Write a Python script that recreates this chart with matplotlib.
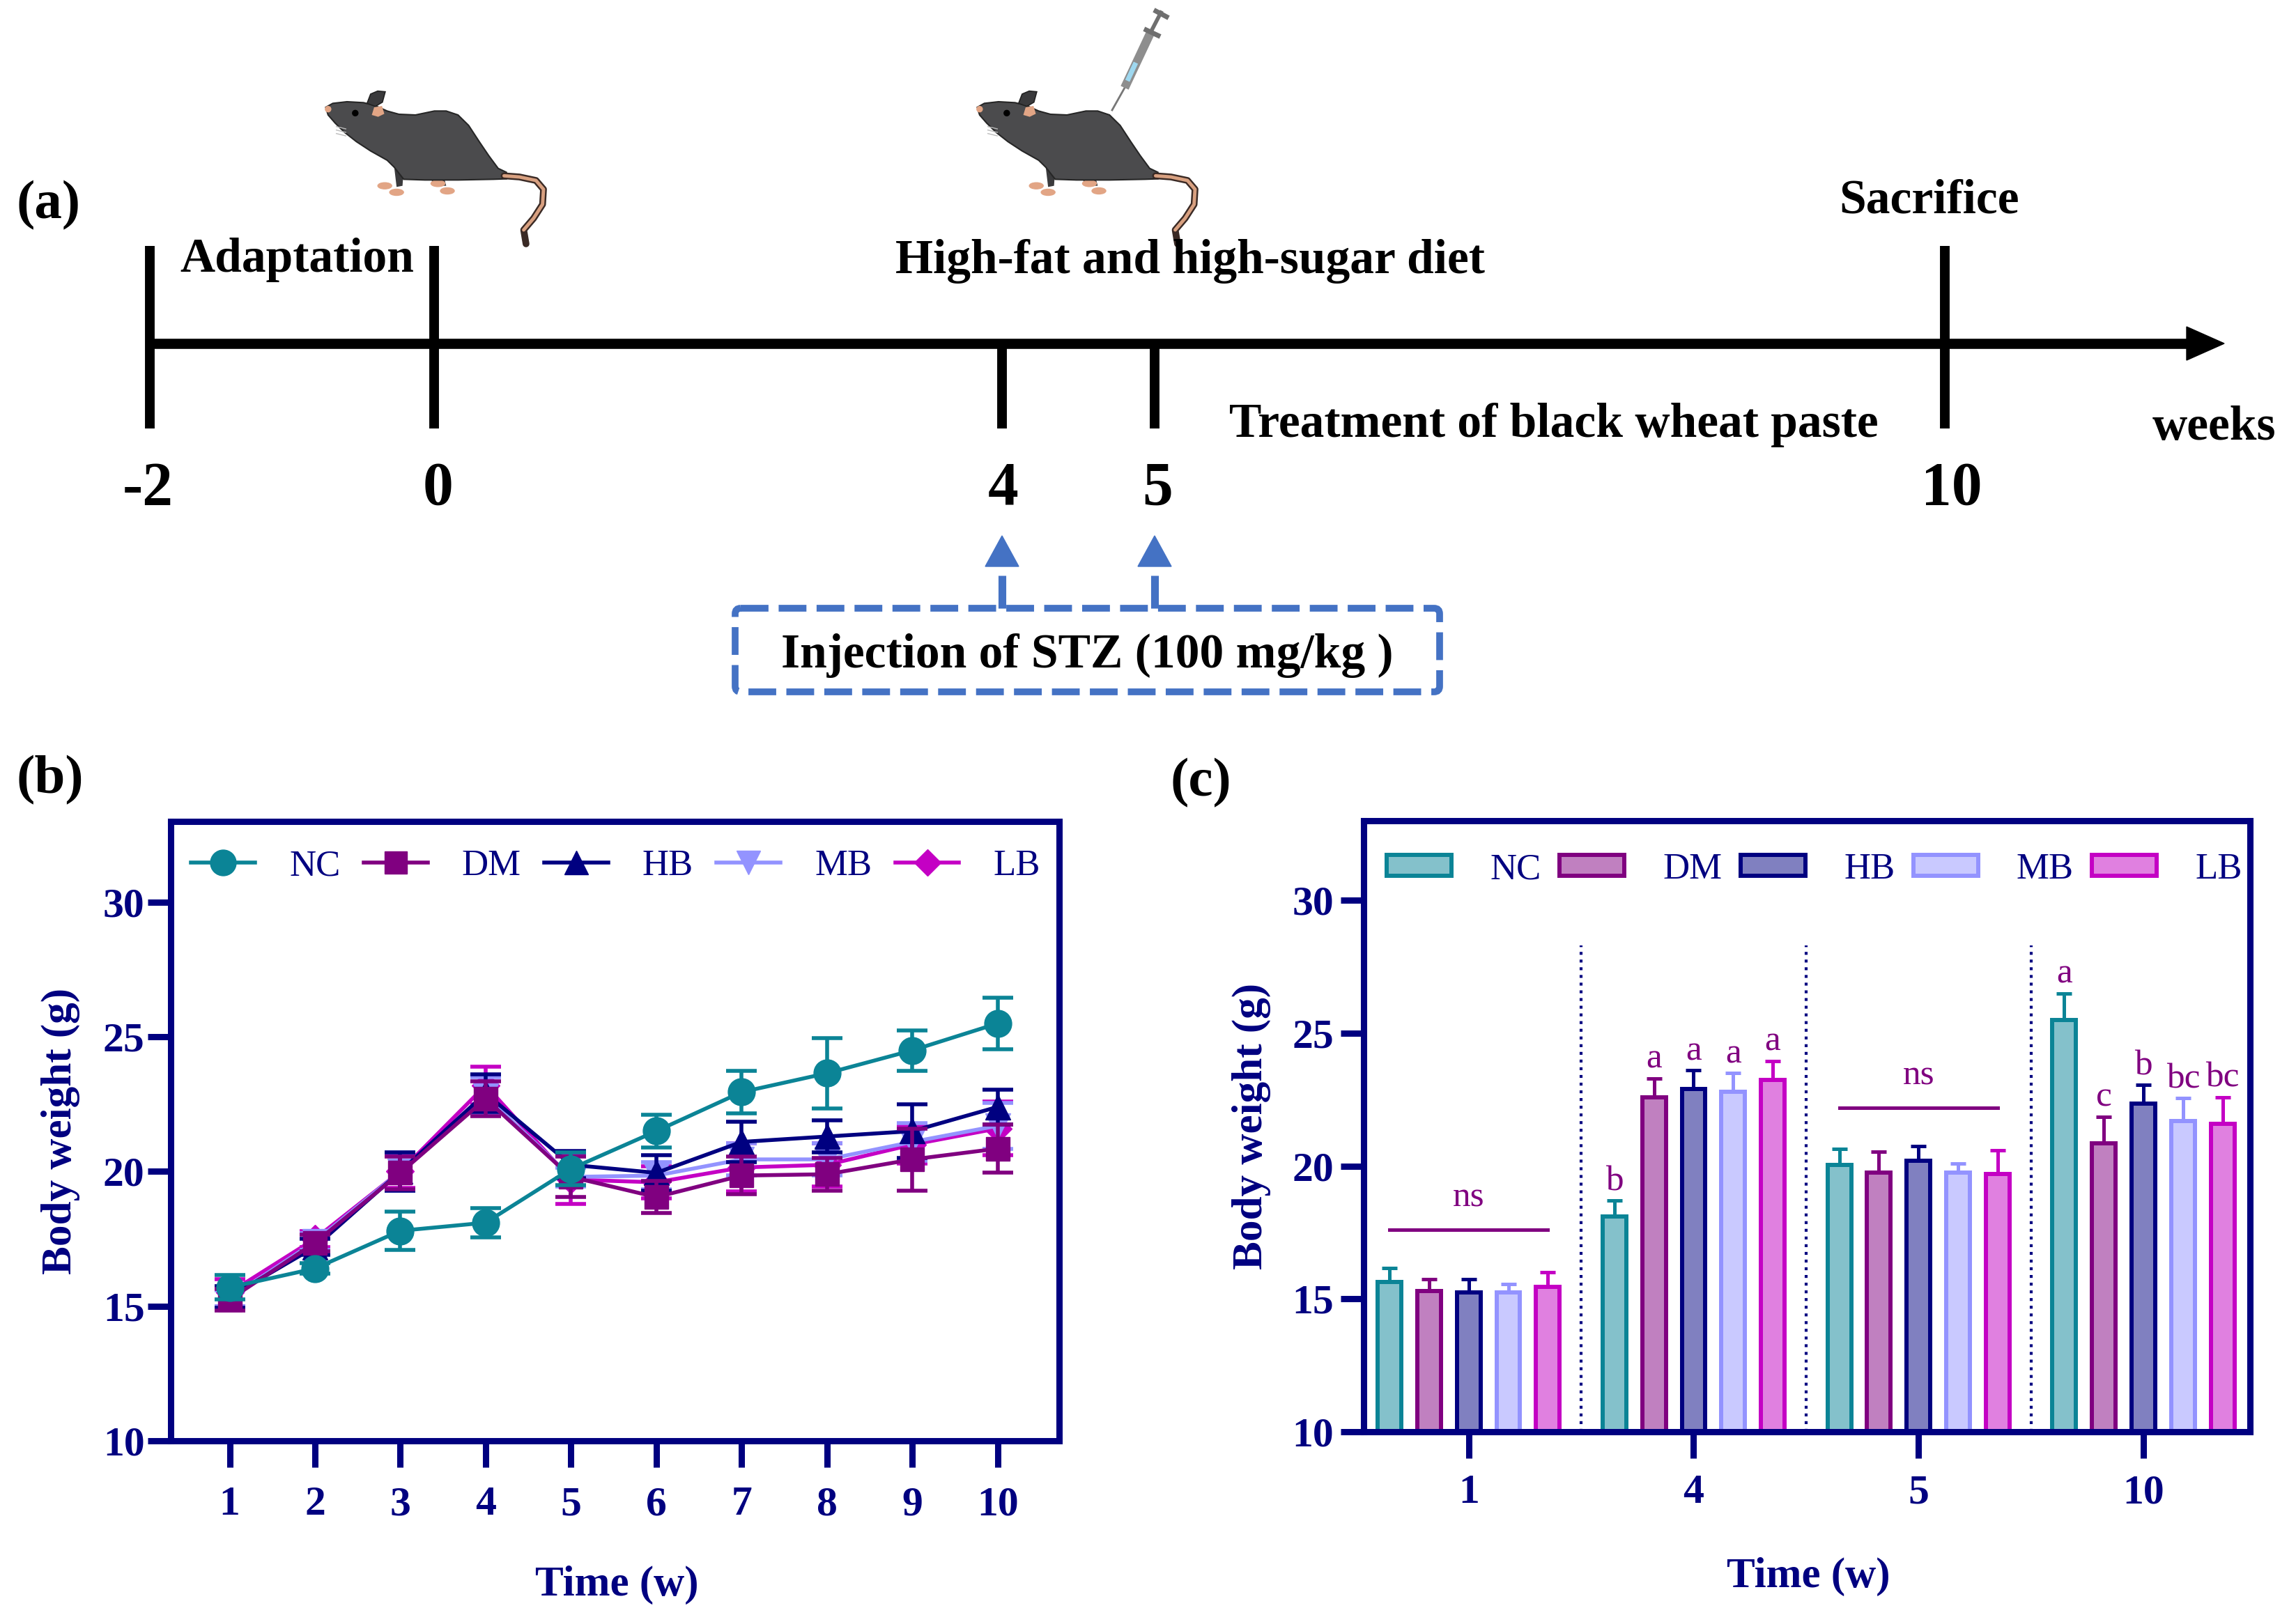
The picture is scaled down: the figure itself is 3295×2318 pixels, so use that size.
import matplotlib
matplotlib.use("Agg")
import matplotlib.pyplot as plt
from matplotlib.lines import Line2D
from matplotlib.patches import Patch, Polygon, FancyBboxPatch, Ellipse, Circle

plt.rcParams['font.family'] = ['Liberation Serif', 'DejaVu Serif']

# ---------------- data ----------------
groups = ["NC", "DM", "HB", "MB", "LB"]

# (b) body weight over time
weeks = [1, 2, 3, 4, 5, 6, 7, 8, 9, 10]
nc_mean = [15.7, 16.4, 17.8, 18.1, 20.1, 21.5, 22.95, 23.65, 24.5, 25.5]
nc_err = [0.45, 0.2, 0.7, 0.55, 0.6, 0.6, 0.8, 1.3, 0.75, 0.95]
dm_mean = [15.25, 17.35, 19.95, 22.7, 19.8, 19.05, 19.85, 19.9, 20.45, 20.85]
dm_err = [0.4, 0.3, 0.6, 0.65, 0.75, 0.6, 0.7, 0.6, 1.15, 0.9]
hb_mean = [15.35, 17.2, 20.0, 22.9, 20.25, 19.95, 21.1, 21.3, 21.5, 22.4]
hb_err = [0.4, 0.3, 0.7, 0.7, 0.5, 0.65, 0.75, 0.6, 1.0, 0.65]
mb_mean = [15.3, 17.4, 20.0, 22.8, 19.8, 19.85, 20.45, 20.45, 21.1, 21.7]
mb_err = [0.3, 0.3, 0.7, 0.7, 0.35, 0.5, 0.6, 0.6, 0.7, 0.85]
lb_mean = [15.5, 17.5, 20.0, 23.2, 19.7, 19.6, 20.15, 20.25, 21.0, 21.6]
lb_err = [0.5, 0.3, 0.6, 0.7, 0.9, 0.6, 0.9, 0.8, 0.7, 1.0]

# (c) body weight at selected weeks
bar_weeks = ["1", "4", "5", "10"]
bar_nc = [15.65, 18.1, 20.05, 25.5]
bar_nc_err = [0.5, 0.6, 0.6, 1.0]
bar_dm = [15.3, 22.6, 19.75, 20.85]
bar_dm_err = [0.45, 0.7, 0.8, 1.0]
bar_hb = [15.25, 22.9, 20.2, 22.35]
bar_hb_err = [0.5, 0.7, 0.55, 0.7]
bar_mb = [15.25, 22.8, 19.75, 21.7]
bar_mb_err = [0.3, 0.7, 0.35, 0.85]
bar_lb = [15.45, 23.25, 19.7, 21.6]
bar_lb_err = [0.55, 0.7, 0.9, 1.0]
letters_w4 = ["b", "a", "a", "a", "a"]
letters_w10 = ["a", "c", "b", "bc", "bc"]
ns_weeks = [0, 2]
ns_level = [17.6, 22.2]

# (a) timeline
timeline_labels = ["-2", "0", "4", "5", "10"]

# ---------------- style ----------------
navy = "#000080"
purple = "#800080"
blue = "#4472C4"
line_colors = ["#0B8496", "#800080", "#000080", "#9393FF", "#C400C4"]
fill_colors = ["#84C1CB", "#C080C0", "#8080C0", "#C9C9FF", "#E080E0"]
markers = ["o", "s", "^", "v", "D"]
msizes = [28, 24, 26, 26, 20]

W, H = 3295, 2318
fig = plt.figure(figsize=(W / 100, H / 100), dpi=100)

# overlay axes in pixel coords for the timeline and panel labels
ax0 = fig.add_axes([0, 0, 1, 1])
ax0.set_xlim(0, W)
ax0.set_ylim(H, 0)
ax0.axis("off")

tl_x = [215, 623, 1438, 1657, 2791]
tl_label_x = [212, 629, 1440, 1661, 2801]
tl_tall = [True, True, False, False, True]
line_y = 493
ax0.plot([211, 3140], [line_y, line_y], color="black", lw=10.5, solid_capstyle="butt")
ax0.add_patch(Polygon([[3138, line_y - 24], [3192, line_y], [3138, line_y + 24]],
                      closed=True, color="black"))
for x, lx, tall, lab in zip(tl_x, tl_label_x, tl_tall, timeline_labels):
    y0 = 353 if tall else line_y
    ax0.plot([x, x], [y0, 615], color="black", lw=10, solid_capstyle="butt")
    ax0.text(lx, 724, lab, fontsize=63, fontweight="bold", ha="center", va="baseline")

ax0.text(70, 313, "(a)", fontsize=57, fontweight="bold", ha="center", va="baseline")
ax0.text(426, 390, "Adaptation", fontsize=50, fontweight="bold", ha="center", va="baseline")
ax0.text(1708, 392, "High-fat and high-sugar diet", fontsize=50, fontweight="bold",
         ha="center", va="baseline")
ax0.text(2768, 305, "Sacrifice", fontsize=50, fontweight="bold", ha="center", va="baseline")
ax0.text(2230, 627, "Treatment of black wheat paste", fontsize=50, fontweight="bold",
         ha="center", va="baseline")
ax0.text(3178, 631, "weeks", fontsize=50, fontweight="bold", ha="center", va="baseline")

# injection box
box = FancyBboxPatch((1055, 873), 1011, 120, boxstyle="round,pad=0,rounding_size=8",
                     fill=False, edgecolor=blue, lw=7, linestyle=(0, (4.1, 1.5)))
ax0.add_patch(box)
ax0.text(1560, 958, "Injection of STZ (100 mg/kg )", fontsize=50, fontweight="bold",
         ha="center", va="baseline")
for x in [1438, 1657]:
    ax0.plot([x, x], [873, 826], color=blue, lw=8, solid_capstyle="butt")
    ax0.add_patch(Polygon([[x - 24, 813], [x, 769], [x + 24, 813]], closed=True, color=blue))


# mice (simple drawing)
def draw_mouse(ax, ox, oy):
    sx, sy = 1 / 2.95, 1 / 3.0

    def tr(pts):
        return [[ox + px * sx, oy + py * sy] for px, py in pts]

    tail = [(895, 757), (960, 762), (1030, 777), (1062, 815), (1058, 880),
            (1020, 940), (978, 990), (988, 1050)]
    t = tr(tail)
    ax.plot([p[0] for p in t], [p[1] for p in t], color="#3a2a25", lw=7,
            solid_capstyle="round")
    ax.plot([p[0] for p in t[:-1]], [p[1] for p in t[:-1]], color="#D8A080", lw=3.5,
            solid_capstyle="round")
    legs = [[(430, 720), (470, 730), (465, 800), (440, 805)],
            [(580, 760), (640, 760), (650, 800), (600, 800)]]
    for leg in legs:
        ax.add_patch(Polygon(tr(leg), closed=True, facecolor="#3A3A3C", edgecolor="none"))
    for fx, fy in [(390, 800), (440, 828), (615, 790), (655, 822)]:
        cx, cy = tr([(fx, fy)])[0]
        ax.add_patch(Ellipse((cx, cy), 20, 9, color="#E2A585"))
    body = [(140, 462), (170, 445), (230, 438), (300, 442), (350, 455), (400, 478),
            (450, 492), (520, 495), (600, 478), (650, 478), (700, 495), (745, 540),
            (790, 610), (830, 670), (870, 725), (905, 742), (905, 770), (850, 772),
            (700, 775), (560, 775), (470, 772), (430, 720),
            (400, 690), (330, 650), (270, 610), (220, 570), (180, 530), (150, 495)]
    ax.add_patch(Polygon(tr(body), closed=True, facecolor="#4B4B4D",
                         edgecolor="#262626", lw=1.5))
    ear = [(315, 445), (330, 405), (360, 392), (392, 395), (380, 440), (350, 458)]
    ax.add_patch(Polygon(tr(ear), closed=True, facecolor="#3A3A3C", edgecolor="#222222",
                         lw=1.2))
    inner = [(335, 495), (345, 462), (378, 456), (388, 490), (362, 503)]
    ax.add_patch(Polygon(tr(inner), closed=True, facecolor="#E2A585", edgecolor="none"))
    ex, ey = tr([(265, 487)])[0]
    ax.add_patch(Circle((ex, ey), 4, color="black"))
    nx, ny = tr([(150, 470)])[0]
    ax.add_patch(Circle((nx, ny), 4, color="#E2A585"))
    for wy in [545, 560, 575]:
        w = tr([(185, wy), (225, wy + 10)])
        ax.plot([w[0][0], w[1][0]], [w[0][1], w[1][1]], color="#bbbbbb", lw=1)


draw_mouse(ax0, 420, 0)
draw_mouse(ax0, 1355, 0)
# syringe
ax0.plot([1596, 1614], [158, 126], color="#777777", lw=2)
ax0.plot([1614, 1652], [126, 45], color="#8E8E8E", lw=9, solid_capstyle="butt")
ax0.plot([1618, 1630], [116, 90], color="#9ED8F0", lw=5, solid_capstyle="butt")
ax0.plot([1652, 1666], [45, 18], color="#6F6F6F", lw=4)
ax0.plot([1645, 1662], [43, 51], color="#6F6F6F", lw=5)
ax0.plot([1659, 1674], [16, 24], color="#6F6F6F", lw=5)

ax0.text(72, 1120, "(b)", fontsize=57, fontweight="bold", ha="center", va="center")
ax0.text(1723, 1124, "(c)", fontsize=57, fontweight="bold", ha="center", va="center")


def style_axes(ax, ypad, xpad):
    for s in ax.spines.values():
        s.set_linewidth(6.5)
        s.set_color(navy)
    ax.tick_params(axis="y", direction="out", length=24, width=6.5, color=navy,
                   labelcolor=navy, labelsize=43, pad=ypad)
    ax.tick_params(axis="x", direction="out", length=27, width=6.5, color=navy,
                   labelcolor=navy, labelsize=43, pad=xpad)
    for lab in ax.get_xticklabels() + ax.get_yticklabels():
        lab.set_fontweight("bold")


def set_labels(ax, xc, yc):
    ax.set_ylabel("Body weight (g)", fontsize=44, fontweight="bold", color=navy)
    ax.set_xlabel("Time (w)", fontsize=44, fontweight="bold", color=navy)
    ax.yaxis.label.set_va("center")
    ax.xaxis.label.set_va("center")
    ax.yaxis.set_label_coords(xc, 0.5)
    ax.xaxis.set_label_coords(0.502, yc)


# ---------------- (b) line chart ----------------
b_l, b_r, b_t, b_b = 245, 1520, 1179, 2068
ax_b = fig.add_axes([b_l / W, 1 - b_b / H, (b_r - b_l) / W, (b_b - b_t) / H])
means = [nc_mean, dm_mean, hb_mean, mb_mean, lb_mean]
errs = [nc_err, dm_err, hb_err, mb_err, lb_err]
for i in [4, 3, 2, 1, 0]:
    ax_b.errorbar(weeks, means[i], yerr=errs[i], color=line_colors[i], marker=markers[i],
                  ms=msizes[i], lw=4, elinewidth=4, capsize=16, capthick=4, zorder=3 + (4 - i))
ax_b.set_xlim(0.31, 10.72)
ax_b.set_ylim(10, 33)
ax_b.set_xticks(weeks)
ax_b.set_yticks([10, 15, 20, 25, 30])
style_axes(ax_b, 3, 20)
set_labels(ax_b, -0.124, (b_b - 2275) / (b_b - b_t))
handles_b = [Line2D([], [], color=line_colors[i], marker=markers[i], ms=msizes[i] * 0.95, lw=4)
             for i in range(5)]
ax_b.legend(handles_b, groups, loc="center left", bbox_to_anchor=(0.023, 0.928), ncol=5,
            frameon=False, fontsize=38, handlelength=1.74, handletextpad=0.93,
            columnspacing=0.63, borderpad=0, borderaxespad=0, labelcolor=navy)

# ---------------- (c) bar chart ----------------
c_l, c_r, c_t, c_b = 1957, 3229, 1178, 2055
ax_c = fig.add_axes([c_l / W, 1 - c_b / H, (c_r - c_l) / W, (c_b - c_t) / H])
bar_vals = [bar_nc, bar_dm, bar_hb, bar_mb, bar_lb]
bar_errs = [bar_nc_err, bar_dm_err, bar_hb_err, bar_mb_err, bar_lb_err]
pos = list(range(len(bar_weeks)))
step, bw = 0.176, 0.105
for j in range(5):
    xs = [p + (j - 2) * step for p in pos]
    ax_c.bar(xs, bar_vals[j], width=bw, color=fill_colors[j], edgecolor=line_colors[j],
             lw=4.3, zorder=2)
    ax_c.errorbar(xs, bar_vals[j], yerr=[[0] * len(xs), bar_errs[j]], fmt="none",
                  ecolor=line_colors[j], elinewidth=3.6, capsize=8, capthick=3.6, zorder=3)
for gi, letters in [(1, letters_w4), (3, letters_w10)]:
    for j, let in enumerate(letters):
        top = bar_vals[j][gi] + bar_errs[j][gi]
        ax_c.text(gi + (j - 2) * step, top + 0.72, let, fontsize=37, color=purple,
                  ha="center", va="center")
for gi, lvl in zip(ns_weeks, ns_level):
    ax_c.plot([gi - 2 * step, gi + 2 * step], [lvl, lvl], color=purple, lw=3.6)
    ax_c.text(gi, lvl + 1.2, "ns", fontsize=37, color=purple, ha="center", va="center")
ax_c.vlines([0.5, 1.5, 2.5], 10, 28.3, colors=navy, linestyles=":", lw=3)
ax_c.set_xlim(-0.467, 3.474)
ax_c.set_ylim(10, 33)
ax_c.set_xticks(pos)
ax_c.set_xticklabels(bar_weeks)
ax_c.set_yticks([10, 15, 20, 25, 30])
style_axes(ax_c, 7, 17)
set_labels(ax_c, -0.127, (c_b - 2263) / (c_b - c_t))
handles_c = [Patch(facecolor=fill_colors[i], edgecolor=line_colors[i], lw=4.3) for i in range(5)]
ax_c.legend(handles_c, groups, loc="center left", bbox_to_anchor=(0.026, 0.92), ncol=5,
            frameon=False, fontsize=38, handlelength=1.76, handleheight=0.5,
            handletextpad=1.05, columnspacing=0.5, borderpad=0, borderaxespad=0,
            labelcolor=navy)

fig.savefig("out.png", dpi=100)
